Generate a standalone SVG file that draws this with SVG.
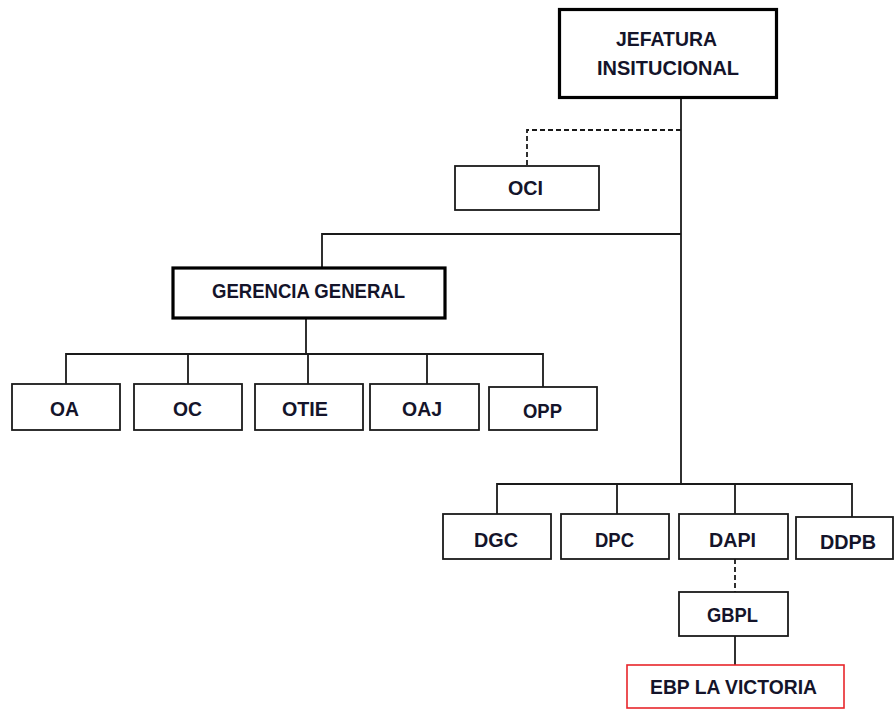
<svg xmlns="http://www.w3.org/2000/svg" width="894" height="709" viewBox="0 0 894 709">
<style>
  .box{fill:#fff;stroke:#1a1a1a;stroke-width:1.8}
  .thick{fill:#fff;stroke:#000;stroke-width:3.2}
  .red{fill:#fff;stroke:#e8262b;stroke-width:1.6}
  .lbl{font-family:"Liberation Sans",Arial,sans-serif;font-weight:bold;font-size:21px;fill:#14142a;text-anchor:middle}
  .ln{fill:none;stroke:#1a1a1a;stroke-width:1.8}
  .dash{fill:none;stroke:#1a1a1a;stroke-width:1.8;stroke-dasharray:5 3}
</style>
<rect width="894" height="709" fill="#fff"/>
<g id="connectors">
  <path class="ln" d="M681 99 V484"/>
  <path class="dash" d="M681 130 H527 V166"/>
  <path class="ln" d="M681 234 H322 V267"/>
  <path class="ln" d="M306 318 V354"/>
  <path class="ln" d="M66 384 V354 H543 V387"/>
  <path class="ln" d="M188 354 V384 M308 354 V384 M427 354 V384"/>
  <path class="ln" d="M497 514 V484 H852 V517"/>
  <path class="ln" d="M617 484 V514 M735 484 V514"/>
  <path class="dash" d="M735 559 V592"/>
  <path class="ln" d="M735 636 V665"/>
</g>
<g id="jefatura">
  <rect class="thick" x="559.5" y="9.5" width="217" height="88"/>
  <text class="lbl" x="666.5" y="45.5" textLength="101" lengthAdjust="spacingAndGlyphs">JEFATURA</text>
  <text class="lbl" x="668" y="75" textLength="142" lengthAdjust="spacingAndGlyphs">INSITUCIONAL</text>
</g>
<g id="oci">
  <rect class="box" x="455" y="166" width="144" height="44"/>
  <text class="lbl" x="525.5" y="194.5" textLength="35" lengthAdjust="spacingAndGlyphs">OCI</text>
</g>
<g id="gerencia">
  <rect class="thick" x="173" y="268" width="272" height="50"/>
  <text class="lbl" x="308.5" y="298" textLength="193" lengthAdjust="spacingAndGlyphs">GERENCIA GENERAL</text>
</g>
<g id="oa">
  <rect class="box" x="12" y="384" width="108" height="46"/>
  <text class="lbl" x="64.5" y="415.5" textLength="29" lengthAdjust="spacingAndGlyphs">OA</text>
</g>
<g id="oc">
  <rect class="box" x="134" y="384" width="108" height="46"/>
  <text class="lbl" x="187.5" y="415.5" textLength="29" lengthAdjust="spacingAndGlyphs">OC</text>
</g>
<g id="otie">
  <rect class="box" x="255" y="384" width="108" height="46"/>
  <text class="lbl" x="305" y="415.5" textLength="46" lengthAdjust="spacingAndGlyphs">OTIE</text>
</g>
<g id="oaj">
  <rect class="box" x="370" y="384" width="109" height="46"/>
  <text class="lbl" x="422" y="415.5" textLength="40" lengthAdjust="spacingAndGlyphs">OAJ</text>
</g>
<g id="opp">
  <rect class="box" x="489" y="387" width="108" height="43"/>
  <text class="lbl" x="542.5" y="418" textLength="39" lengthAdjust="spacingAndGlyphs">OPP</text>
</g>
<g id="dgc">
  <rect class="box" x="443" y="514" width="108" height="45"/>
  <text class="lbl" x="496" y="546.5" textLength="44" lengthAdjust="spacingAndGlyphs">DGC</text>
</g>
<g id="dpc">
  <rect class="box" x="561" y="514" width="108" height="45"/>
  <text class="lbl" x="614.5" y="546.5" textLength="39" lengthAdjust="spacingAndGlyphs">DPC</text>
</g>
<g id="dapi">
  <rect class="box" x="679" y="514" width="109" height="45"/>
  <text class="lbl" x="732.5" y="546.5" textLength="47" lengthAdjust="spacingAndGlyphs">DAPI</text>
</g>
<g id="ddpb">
  <rect class="box" x="796" y="517" width="97" height="42"/>
  <text class="lbl" x="848" y="548.5" textLength="56" lengthAdjust="spacingAndGlyphs">DDPB</text>
</g>
<g id="gbpl">
  <rect class="box" x="679" y="592" width="109" height="44"/>
  <text class="lbl" x="732.5" y="622" textLength="51" lengthAdjust="spacingAndGlyphs">GBPL</text>
</g>
<g id="ebp">
  <rect class="red" x="627" y="665" width="217" height="43"/>
  <text class="lbl" x="733.5" y="694" textLength="167" lengthAdjust="spacingAndGlyphs">EBP LA VICTORIA</text>
</g>
</svg>
